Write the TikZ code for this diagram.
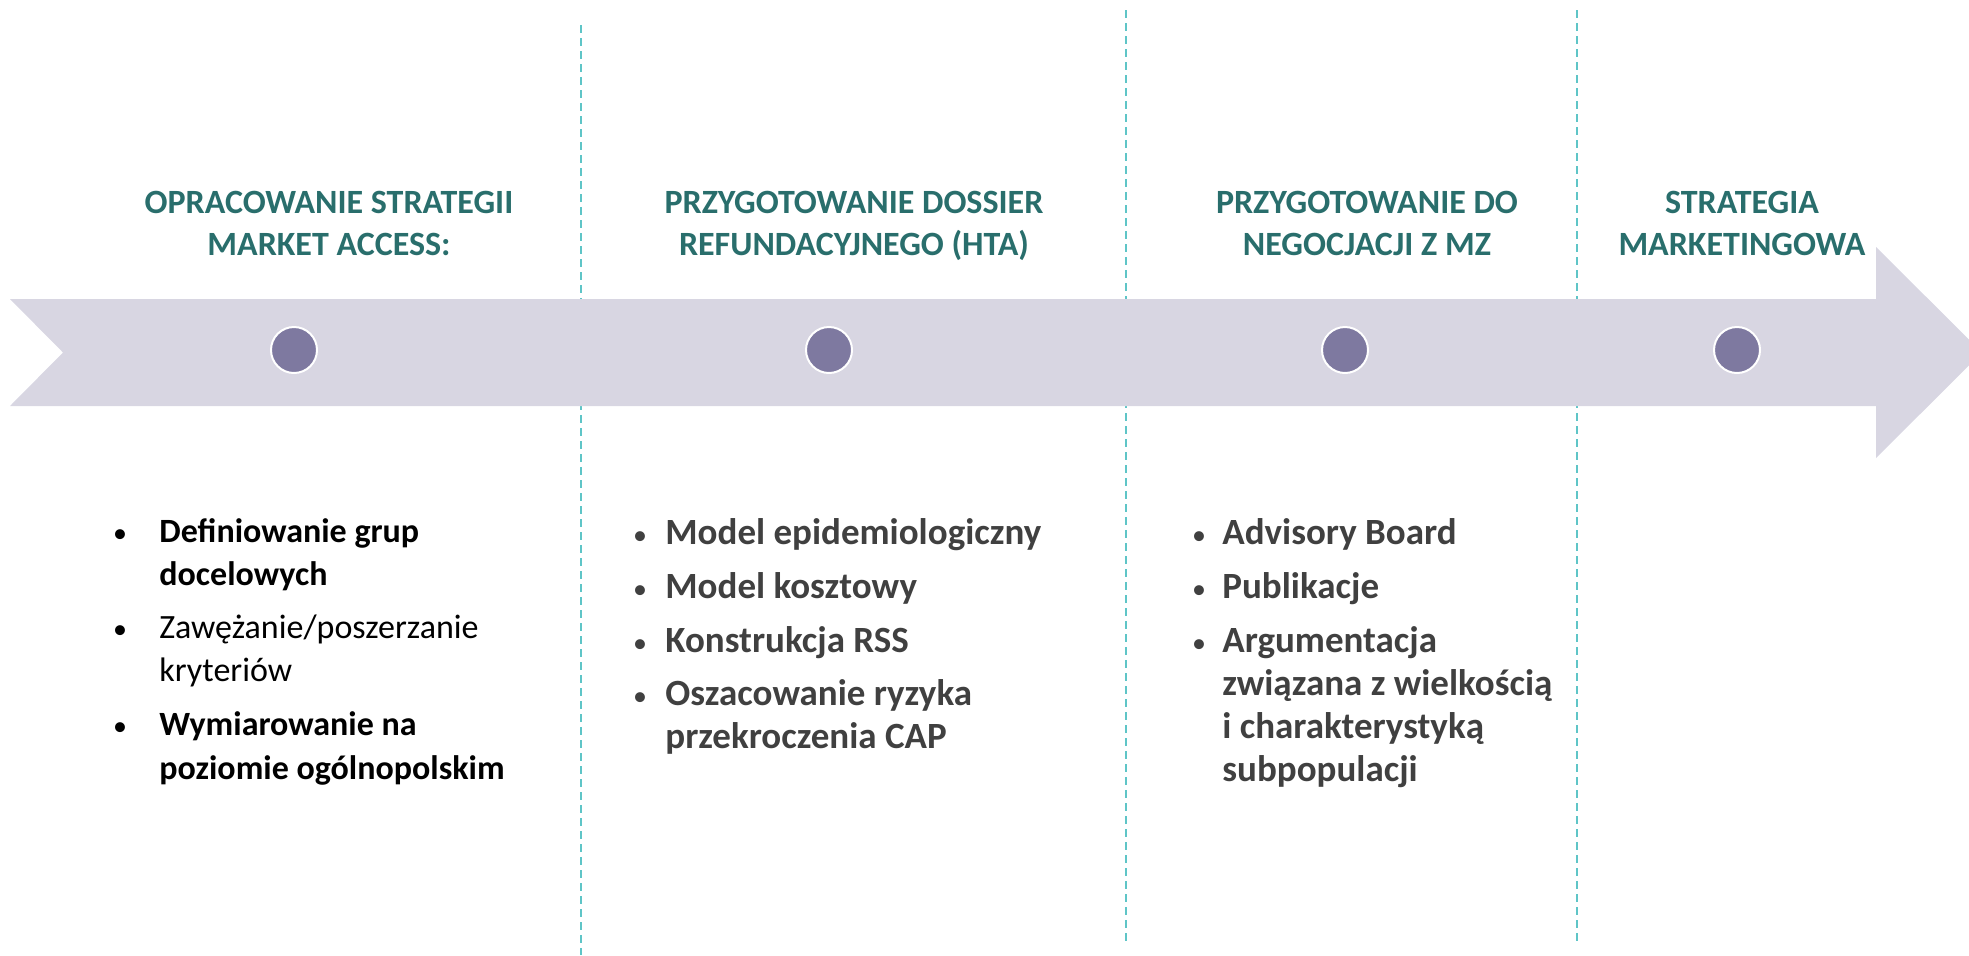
\documentclass[tikz,border=0pt]{standalone}
\usepackage{fontspec}
\setmainfont{Carlito}
\definecolor{titelfarbe}{RGB}{41,110,108}
\definecolor{pfeilfarbe}{RGB}{216,214,226}
\definecolor{punktfarbe}{RGB}{126,121,160}
\definecolor{linienfarbe}{RGB}{95,197,199}
\definecolor{grau}{RGB}{64,64,64}
\tikzset{
    trenn/.style={draw=linienfarbe, line width=1pt, dash pattern=on 4pt off 2.5pt},
    punkt/.style={circle, fill=punktfarbe, draw=white, line width=1pt, minimum size=23pt, inner sep=0pt},
    titel/.style={anchor=base, inner sep=0pt, text=titelfarbe, font=\fontsize{17}{20}\selectfont\bfseries},
    zeile/.style={anchor=base west, inner sep=0pt, font=\fontsize{17}{20}\selectfont\bfseries},
    zeilegross/.style={zeile, text=grau, font=\fontsize{18.5}{20}\selectfont\bfseries},
    marke/.style={anchor=base, inner sep=0pt, font=\fontsize{14}{20}\selectfont}
}
\begin{document}
\begin{tikzpicture}[x=0.5pt, y=-0.5pt]
        \useasboundingbox (0,0) rectangle (1969,955);
        % Trennlinien
        \draw[trenn] (581,25) -- (581,955);
        \draw[trenn] (1126,10) -- (1126,942);
        \draw[trenn] (1577,10) -- (1577,942);
        % Pfeil
        \fill[pfeilfarbe] (10,299) -- (1876,299) -- (1876,247) -- (1982,352.5)
            -- (1876,458) -- (1876,406) -- (10,406) -- (63,352.5) -- cycle;
        % Punkte
        \node[punkt] (p1) at (294,350) {};
        \node[punkt] (p2) at (829,350) {};
        \node[punkt] (p3) at (1345,350) {};
        \node[punkt] (p4) at (1737,350) {};
        % Ueberschriften
        \node[titel] (t1a) at (329,213) {OPRACOWANIE STRATEGII};
        \node[titel] (t1b) at (329,255) {MARKET ACCESS:};
        \node[titel] (t2a) at (854,213) {PRZYGOTOWANIE DOSSIER};
        \node[titel] (t2b) at (854,255) {REFUNDACYJNEGO (HTA)};
        \node[titel] (t3a) at (1367,213) {PRZYGOTOWANIE DO};
        \node[titel] (t3b) at (1367,255) {NEGOCJACJI Z MZ};
        \node[titel] (t4a) at (1742,213) {STRATEGIA};
        \node[titel] (t4b) at (1742,255) {MARKETINGOWA};
        % Stichpunkte links
        \foreach \y in {542,638,735}
            \node[marke] (m1-\y) at (120,\y) {•};
        \node[zeile] (s1a) at (159,542) {Definiowanie grup};
        \node[zeile] (s1b) at (159,585) {docelowych};
        \node[zeile, font=\fontsize{17}{20}\selectfont] (s1c) at (159,638) {Zawężanie/poszerzanie};
        \node[zeile, font=\fontsize{17}{20}\selectfont] (s1d) at (159,681) {kryteriów};
        \node[zeile] (s1e) at (159,735) {Wymiarowanie na};
        \node[zeile] (s1f) at (159,779) {poziomie ogólnopolskim};
        % Stichpunkte Mitte
        \foreach \y in {544,598,652,705}
            \node[marke, text=grau] (m2-\y) at (640,\y) {•};
        \foreach \y/\txt in {544/Model epidemiologiczny, 598/Model kosztowy,
                652/Konstrukcja RSS, 705/Oszacowanie ryzyka, 748/przekroczenia CAP}
            \node[zeilegross] (s2-\y) at (665,\y) {\txt};
        % Stichpunkte rechts
        \foreach \y in {544,598,652}
            \node[marke, text=grau] (m3-\y) at (1199,\y) {•};
        \foreach \y/\txt in {544/Advisory Board, 598/Publikacje, 652/Argumentacja,
                695/związana z wielkością, 738/i charakterystyką, 781/subpopulacji}
            \node[zeilegross] (s3-\y) at (1222,\y) {\txt};
\end{tikzpicture}
\end{document}
